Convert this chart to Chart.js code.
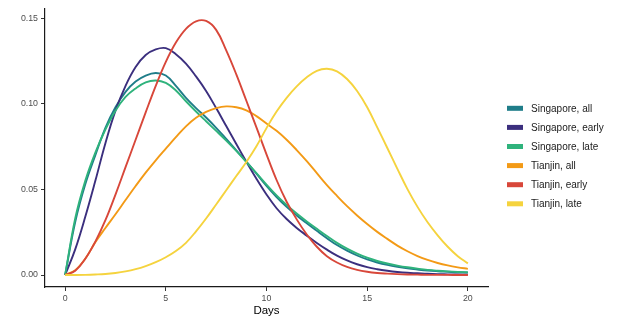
<!DOCTYPE html>
<html>
<head>
<meta charset="utf-8">
<title>Days density</title>
<script src="https://cdn.jsdelivr.net/npm/chart.js@4.4.1/dist/chart.umd.min.js"></script>
<style>
  html, body { margin: 0; padding: 0; background: #ffffff; }
  #wrap { width: 617px; height: 322px; }
</style>
</head>
<body>
<div id="wrap"><canvas id="chart" width="617" height="322"></canvas></div>
<script>
const days = [0, 0.5, 1, 1.5, 2, 2.5, 3, 3.5, 4, 4.5, 5, 5.5, 6, 6.5, 7, 7.5, 8, 8.5, 9, 9.5,
  10, 10.5, 11, 11.5, 12, 12.5, 13, 13.5, 14, 14.5, 15, 15.5, 16, 16.5, 17, 17.5, 18, 18.5, 19, 19.5, 20];

const seriesNames = ['Singapore, all', 'Singapore, early', 'Singapore, late',
  'Tianjin, all', 'Tianjin, early', 'Tianjin, late'];
const seriesColors = ['#1f7d89', '#3b2f7e', '#2fb37c', '#f39a16', '#d8473a', '#f5d33e'];

const singaporeAll = [0, 0.031, 0.053, 0.070, 0.086, 0.098, 0.107, 0.113, 0.1165, 0.118,
  0.1165, 0.1105, 0.1035, 0.0975, 0.092, 0.086, 0.0795, 0.0728, 0.0662, 0.0592,
  0.052, 0.0455, 0.0398, 0.0348, 0.0302, 0.0258, 0.0215, 0.0175, 0.0142, 0.0114,
  0.0091, 0.0073, 0.0059, 0.0048, 0.0039, 0.0032, 0.0026, 0.0022, 0.0019, 0.0016, 0.0014];
const singaporeEarly = [0, 0.015, 0.034, 0.055, 0.077, 0.096, 0.1105, 0.1215, 0.1285, 0.1318,
  0.1325, 0.129, 0.1235, 0.116, 0.1075, 0.0975, 0.087, 0.0765, 0.0662, 0.0562,
  0.047, 0.039, 0.0327, 0.0275, 0.023, 0.0187, 0.0148, 0.0113, 0.0085, 0.0063,
  0.0046, 0.0034, 0.0025, 0.0018, 0.0013, 0.001, 0.0007, 0.0005, 0.0004, 0.0003, 0.0002];
const singaporeLate = [0, 0.033, 0.055, 0.0715, 0.085, 0.096, 0.104, 0.109, 0.1125, 0.1136,
  0.1122, 0.1078, 0.1015, 0.0955, 0.0898, 0.0842, 0.0785, 0.0725, 0.066, 0.0595,
  0.0528, 0.0465, 0.0409, 0.0359, 0.0313, 0.027, 0.0228, 0.0188, 0.0154, 0.0125,
  0.0101, 0.0082, 0.0067, 0.0055, 0.0045, 0.0037, 0.003, 0.0025, 0.0021, 0.0018, 0.0016];
const tianjinAll = [0, 0.0028, 0.0095, 0.0192, 0.0275, 0.0355, 0.0438, 0.052, 0.0598, 0.067,
  0.0738, 0.0805, 0.0868, 0.0918, 0.0953, 0.0975, 0.0985, 0.098, 0.0962, 0.0928,
  0.0885, 0.0842, 0.079, 0.073, 0.0665, 0.0595, 0.0525, 0.0462, 0.0402, 0.0348,
  0.0298, 0.0252, 0.0211, 0.0172, 0.0139, 0.0111, 0.0088, 0.007, 0.0056, 0.0045, 0.0036];
const tianjinEarly = [0, 0.0025, 0.0095, 0.0195, 0.032, 0.047, 0.063, 0.079, 0.095, 0.1105,
  0.1245, 0.1358, 0.1438, 0.1482, 0.1484, 0.1432, 0.1312, 0.1172, 0.1018, 0.0862,
  0.0705, 0.0555, 0.0428, 0.0325, 0.0237, 0.0165, 0.011, 0.0073, 0.0047, 0.003,
  0.0019, 0.0012, 0.0008, 0.0005, 0.0003, 0.0002, 0.0001, 0.0001, 0.0001, 0, 0];
const tianjinLate = [0, 0, 0.0001, 0.0003, 0.0006, 0.0012, 0.0021, 0.0034, 0.0052, 0.0075,
  0.0104, 0.014, 0.0188, 0.0255, 0.033, 0.0412, 0.0495, 0.0578, 0.066, 0.0752,
  0.0858, 0.0955, 0.1035, 0.1102, 0.1155, 0.1193, 0.1205, 0.119, 0.1145, 0.1075,
  0.098, 0.0862, 0.0742, 0.062, 0.0502, 0.0398, 0.0308, 0.0232, 0.0165, 0.011, 0.0068];

const xTicks = [0, 5, 10, 15, 20];
const yTicks = [0, 0.05, 0.10, 0.15];
const yTickLabels = ['0.00', '0.05', '0.10', '0.15'];

const allSeries = [singaporeAll, singaporeEarly, singaporeLate, tianjinAll, tianjinEarly, tianjinLate];
const FONT = '"Liberation Sans", Arial, Helvetica, sans-serif';

// legend on the right, drawn like ggplot's key
const sideLegend = {
  id: 'sideLegend',
  afterDraw(chart) {
    const ctx = chart.ctx;
    const keyX = chart.chartArea.right + 19;
    ctx.save();
    ctx.font = '10px ' + FONT;
    ctx.textBaseline = 'middle';
    ctx.textAlign = 'left';
    seriesNames.forEach((name, i) => {
      const cy = 108.3 + i * 19.1;
      ctx.fillStyle = seriesColors[i];
      ctx.fillRect(keyX, cy - 2.5, 16, 5);
      ctx.fillStyle = '#1a1a1a';
      ctx.fillText(name, keyX + 24, cy + 0.5);
    });
    ctx.restore();
  }
};

const ctx = document.getElementById('chart').getContext('2d');
const chart = new Chart(ctx, {
  type: 'line',
  data: {
    datasets: allSeries.map((vals, i) => ({
      label: seriesNames[i],
      data: days.map((d, j) => ({ x: d, y: vals[j] })),
      borderColor: seriesColors[i],
      backgroundColor: seriesColors[i],
      borderWidth: 1.9,
      pointRadius: 0,
      fill: false,
      tension: 0.4,
      order: 5 - i
    }))
  },
  options: {
    responsive: false,
    animation: false,
    layout: { padding: { top: 6, right: 129, left: 0, bottom: 0 } },
    plugins: {
      legend: { display: false },
      tooltip: { enabled: false }
    },
    scales: {
      x: {
        type: 'linear',
        min: -1,
        max: 21,
        afterBuildTicks: s => { s.ticks = xTicks.map(v => ({ value: v })); },
        afterFit: s => { s.height = 35; },
        ticks: {
          color: '#4d4d4d',
          font: { family: FONT, size: 8.8 },
          padding: 2,
          maxRotation: 0,
          callback: v => String(v)
        },
        grid: { display: true, drawOnChartArea: false, drawTicks: true, tickLength: 4, color: '#333333', lineWidth: 1 },
        border: { display: true, color: '#1a1a1a', width: 1.2 },
        title: {
          display: true,
          text: 'Days',
          color: '#000000',
          font: { family: FONT, size: 11.5 },
          padding: { top: 0, bottom: 4 }
        }
      },
      y: {
        type: 'linear',
        min: -0.0070,
        max: 0.1558,
        afterBuildTicks: s => { s.ticks = yTicks.map(v => ({ value: v })); },
        afterFit: s => { s.width = 45; },
        ticks: {
          color: '#4d4d4d',
          font: { family: FONT, size: 8.8 },
          padding: 3,
          callback: v => yTickLabels[yTicks.indexOf(v)]
        },
        grid: { display: true, drawOnChartArea: false, drawTicks: true, tickLength: 4, color: '#333333', lineWidth: 1 },
        border: { display: true, color: '#1a1a1a', width: 1.2 }
      }
    }
  },
  plugins: [sideLegend]
});
</script>
</body>
</html>
